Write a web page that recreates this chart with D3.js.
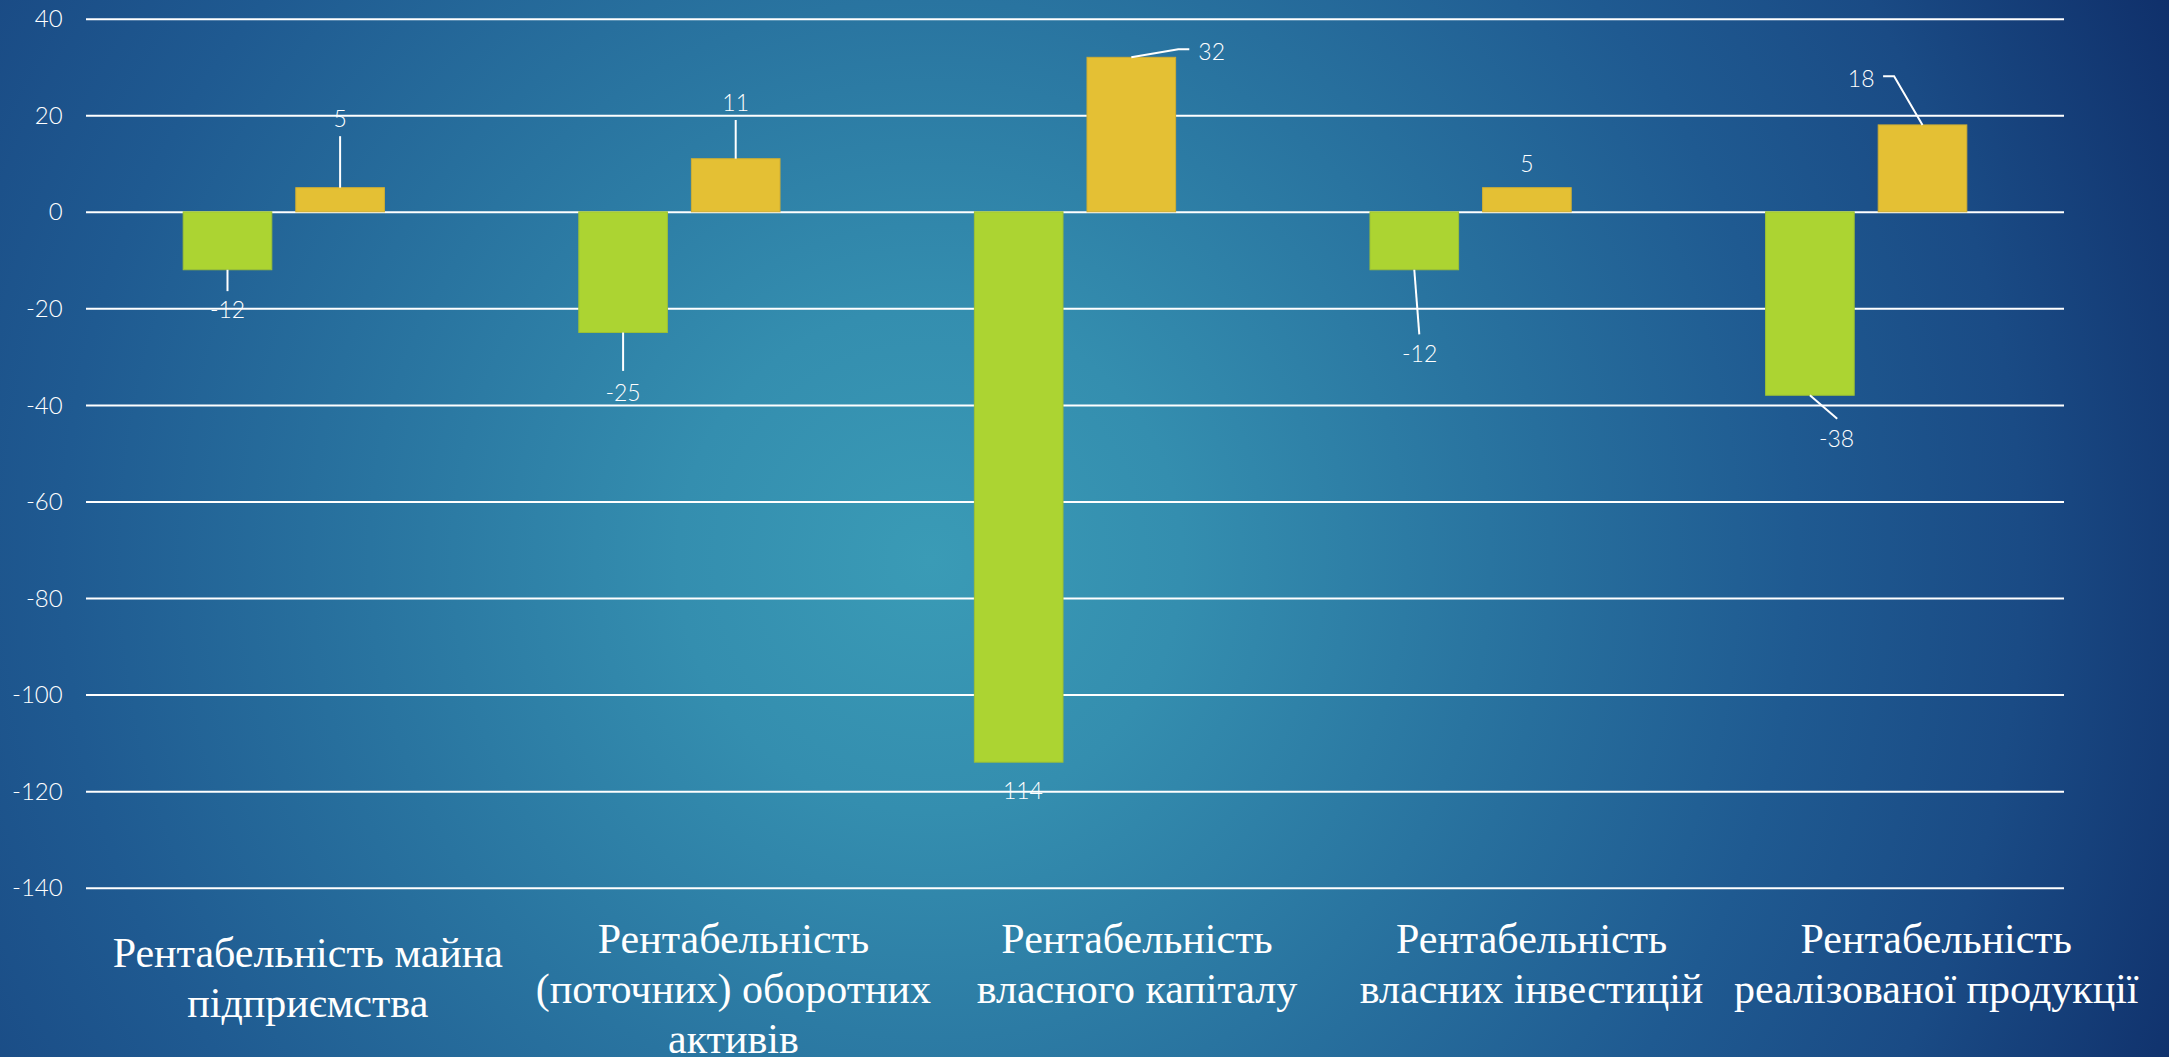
<!DOCTYPE html>
<html>
<head>
<meta charset="utf-8">
<script src="https://cdn.jsdelivr.net/npm/d3@7"></script>
<style>
  html, body { margin: 0; padding: 0; overflow: hidden; background: #1c4f88; }
  svg { display: block; }
</style>
</head>
<body>
<svg id="chart" width="2169" height="1057"></svg>
<script>
// ---- data ----
const categories = [
  "Рентабельність майна\nпідприємства",
  "Рентабельність\n(поточних) оборотних\nактивів",
  "Рентабельність\nвласного капіталу",
  "Рентабельність\nвласних інвестицій",
  "Рентабельність\nреалізованої продукції"
];
const seriesKeys = ["a", "b"];
const seriesA = [-12, -25, -114, -12, -38];
const seriesB = [5, 11, 32, 5, 18];
const yTicks = [-140, -120, -100, -80, -60, -40, -20, 0, 20, 40];

// ---- layout ----
const W = 2169, H = 1057;
const plot = { left: 86, right: 2064, top: 18.7, bottom: 887.7 };
const colors = { a: "#acd432", b: "#e4c034" };
const strokes = { a: "#9cc036", b: "#cfae34" };
const numFont = "'Lato', 'Open Sans', sans-serif";
const catFont = "'Liberation Serif', 'Times New Roman', serif";

// data-label placement relative to the end of each bar: text offset, anchor, leader points
const labelPlacementA = [
  { dx: 0,    dy: 48.7, anchor: "middle", leader: [[0, 0], [0, 21.4]] },
  { dx: 0,    dy: 68.4, anchor: "middle", leader: [[0, 0], [0, 38.4]] },
  { dx: 0,    dy: 37.3, anchor: "middle", leader: null },
  { dx: 5.4,  dy: 92.4, anchor: "middle", leader: [[0, 0], [5, 64.7]] },
  { dx: 26.7, dy: 52.2, anchor: "middle", leader: [[0, 0], [27.3, 23.5]] }
];
const labelPlacementB = [
  { dx: 0,   dy: -61,   anchor: "middle", leader: [[0, 0], [0, -51.5]] },
  { dx: 0,   dy: -47.5, anchor: "middle", leader: [[0, 0], [0, -38.7]] },
  { dx: 67,  dy: 3,     anchor: "start",  leader: [[0, 0], [47, -8], [58, -8]] },
  { dx: 0,   dy: -16,   anchor: "middle", leader: null },
  { dx: -48, dy: -38.3, anchor: "end",    leader: [[0, 0], [-28.4, -48.6], [-39.4, -48.6]] }
];
// category label text blocks: horizontal shift from the band centre and first baseline
const catShift = [24, 54, 62, 61, 70];
const catBaseline = [966.7, 952.7, 952.7, 952.7, 952.7];
const catLineStep = 50;

const svg = d3.select("#chart");

// ---- background ----
const defs = svg.append("defs");
const bg = defs.append("radialGradient")
  .attr("id", "bgGrad")
  .attr("gradientUnits", "userSpaceOnUse")
  .attr("cx", 930).attr("cy", 560).attr("r", 1400)
  .attr("fx", 930).attr("fy", 560);
[
  [0.00, "#3a9bb6"],
  [0.18, "#348eaf"],
  [0.40, "#2974a0"],
  [0.62, "#1f5a91"],
  [0.78, "#1a4b85"],
  [1.00, "#0e2c67"]
].forEach(([o, c]) => bg.append("stop").attr("offset", o).attr("stop-color", c));

svg.append("rect").attr("width", W).attr("height", H).attr("fill", "url(#bgGrad)");

// ---- scales ----
const x0 = d3.scaleBand()
  .domain(d3.range(categories.length))
  .range([plot.left, plot.right])
  .padding(0);

const x1 = d3.scaleBand()
  .domain(seriesKeys)
  .range([0, x0.bandwidth()])
  .paddingInner(0.213)
  .paddingOuter(0.863);

const y = d3.scaleLinear()
  .domain([d3.min(yTicks), d3.max(yTicks)])
  .range([plot.bottom, plot.top]);

// ---- gridlines + value axis ----
const yAxis = d3.axisLeft(y)
  .tickValues(yTicks)
  .tickFormat(d3.format("d"))
  .tickSizeInner(-(plot.right - plot.left))
  .tickSizeOuter(0)
  .tickPadding(23.3);

const gAxis = svg.append("g")
  .attr("transform", `translate(${plot.left},0)`)
  .call(yAxis);
gAxis.select(".domain").remove();
gAxis.selectAll(".tick line")
  .attr("stroke", "#ffffff")
  .attr("stroke-width", 2);
gAxis.selectAll(".tick text")
  .attr("fill", "#ffffff")
  .attr("font-family", numFont)
  .attr("font-weight", 300)
  .attr("font-size", 24)
  .attr("dy", "0.34em")
  .text(d => d < 0 ? "-" + Math.abs(d) : String(d));

// ---- bars ----
const rows = categories.map((c, i) => ({ i, a: seriesA[i], b: seriesB[i] }));

const groups = svg.append("g").selectAll("g")
  .data(rows)
  .join("g")
  .attr("transform", d => `translate(${x0(d.i)},0)`);

groups.selectAll("rect")
  .data(d => seriesKeys.map(k => ({ k, v: d[k] })))
  .join("rect")
  .attr("x", d => x1(d.k))
  .attr("width", x1.bandwidth())
  .attr("y", d => y(Math.max(0, d.v)))
  .attr("height", d => Math.abs(y(d.v) - y(0)))
  .attr("fill", d => colors[d.k])
  .attr("stroke", d => strokes[d.k])
  .attr("stroke-width", 1);

// ---- data labels with leader lines ----
const labelLayer = svg.append("g");
const line = d3.line();

function drawLabels(values, key, placement) {
  values.forEach((v, i) => {
    const p = placement[i];
    const cx = x0(i) + x1(key) + x1.bandwidth() / 2;
    const cy = y(v);
    if (p.leader) {
      labelLayer.append("path")
        .attr("d", line(p.leader.map(([dx, dy]) => [cx + dx, cy + dy])))
        .attr("fill", "none")
        .attr("stroke", "#ffffff")
        .attr("stroke-width", 2);
    }
    labelLayer.append("text")
      .attr("x", cx + p.dx)
      .attr("y", cy + p.dy)
      .attr("text-anchor", p.anchor)
      .attr("fill", "#ffffff")
      .attr("font-family", numFont)
      .attr("font-weight", 300)
      .attr("font-size", 23)
      .text(v < 0 ? "-" + Math.abs(v) : String(v));
  });
}
drawLabels(seriesA, "a", labelPlacementA);
drawLabels(seriesB, "b", labelPlacementB);

// ---- category labels ----
const catLayer = svg.append("g");
categories.forEach((c, i) => {
  const cx = x0(i) + x0.bandwidth() / 2 + catShift[i];
  const t = catLayer.append("text")
    .attr("text-anchor", "middle")
    .attr("fill", "#ffffff")
    .attr("font-family", catFont)
    .attr("font-size", 42);
  c.split("\n").forEach((ln, j) => {
    t.append("tspan")
      .attr("x", cx)
      .attr("y", catBaseline[i] + j * catLineStep)
      .text(ln);
  });
});
</script>
</body>
</html>
